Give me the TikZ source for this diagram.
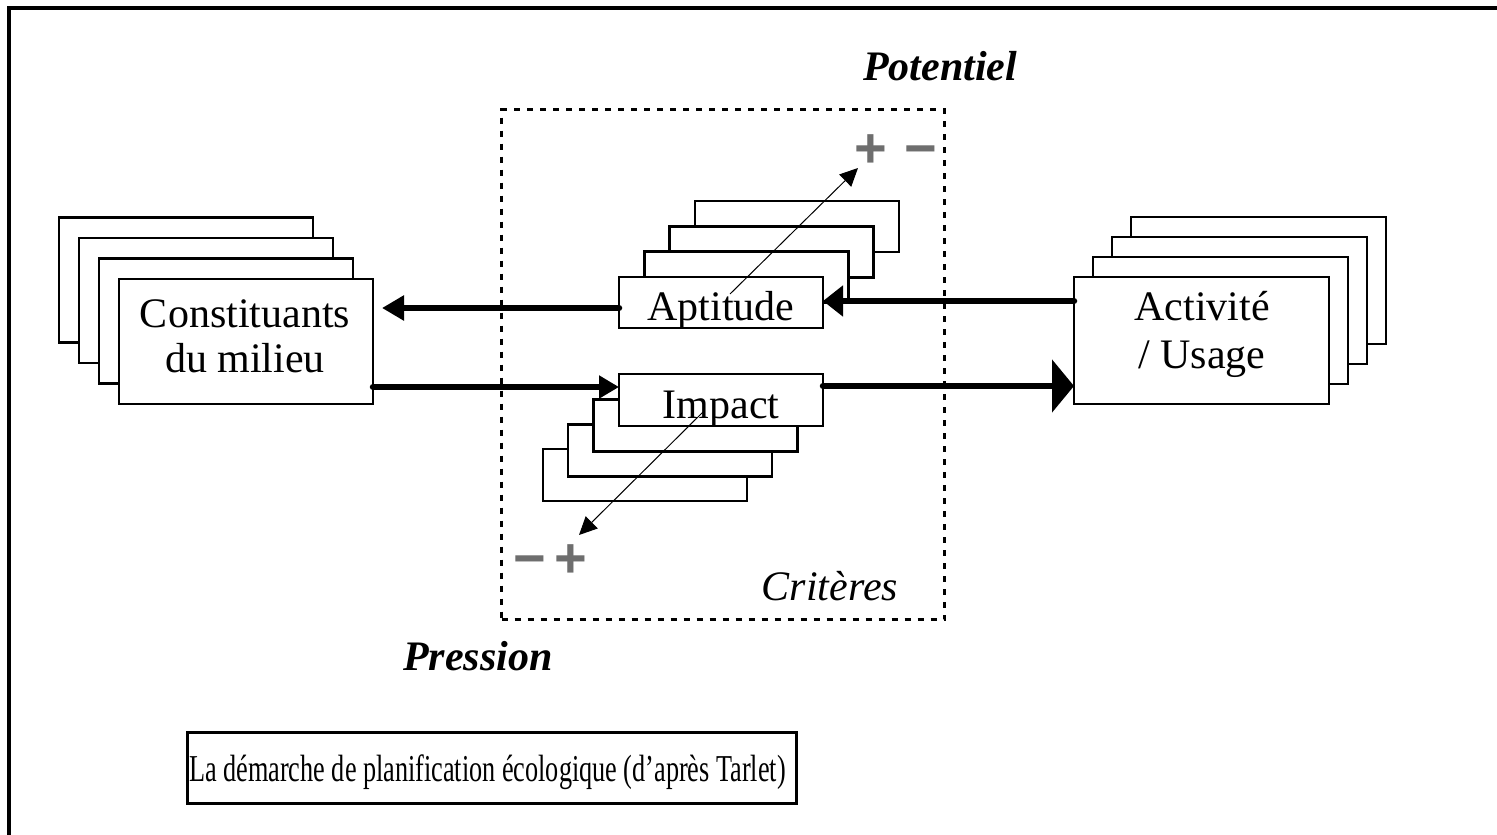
\documentclass[tikz,border=0pt]{standalone}
\usepackage{fontspec}
\setmainfont{Liberation Serif}
\newfontfamily\signfont{Liberation Sans}
\usetikzlibrary{arrows.meta,calc}
\definecolor{signgray}{HTML}{6E6E6E}
\begin{document}
\begin{tikzpicture}[x=1pt,y=-1pt,
  box/.style={draw, line width=2.5pt, fill=white, inner sep=0pt, outer sep=0pt, anchor=north west},
  cbox/.style={box, minimum width=254pt, minimum height=125pt},
  abox/.style={box, minimum width=255pt, minimum height=127pt},
  sbox/.style={box, minimum width=204pt, minimum height=51pt},
  lbl/.style={inner sep=0pt, anchor=base, font=\fontsize{42}{45}\selectfont},
  bilbl/.style={lbl, font=\fontsize{42}{45}\selectfont\bfseries\itshape},
  itlbl/.style={lbl, font=\fontsize{42}{45}\selectfont\itshape},
  signlbl/.style={inner sep=0pt, anchor=base, text=signgray, font=\fontsize{56}{56}\selectfont\signfont\bfseries},
  bigarrow/.style={line width=6.5pt, line cap=round},
  thinarrow/.style={line width=1pt, -{Triangle[length=18pt,width=17pt]}}]
\useasboundingbox (0,0) rectangle (1497,835);
% outer frame (top and left only)
\draw[line width=3.5pt] (9,835) -- (9,8) -- (1497,8);
% dotted criteria box
\node[draw, line width=3pt, dash pattern=on 6pt off 7pt, minimum width=443pt, minimum height=510pt, inner sep=0pt, anchor=north west] (crit) at (500,108) {};
% Constituants stack
\node[cbox] (c4) at (59,217.5) {};
\node[cbox] (c3) at (79,238) {};
\node[cbox] (c2) at (99,258.5) {};
\node[cbox] (cons) at (119,279) {};
\node[lbl] (consT1) at (245,327) {Constituants};
\node[lbl] (consT2) at (245,372) {du milieu};
% Activite stack
\node[abox] (a4) at (1131,217) {};
\node[abox] (a3) at (1112,237) {};
\node[abox] (a2) at (1093,257) {};
\node[abox] (act) at (1074,277) {};
\node[lbl] (actT1) at (1202,320) {Activité};
\node[lbl] (actT2) at (1202,368) {/ Usage};
% Aptitude stack
\node[sbox] (p4) at (695,201) {};
\node[sbox] (p3) at (669.7,226.3) {};
\node[sbox] (p2) at (644.3,251.7) {};
\node[sbox] (apt) at (619,277) {};
\begin{scope}
\clip (apt.north west) rectangle (apt.south east);
\node[lbl] (aptT) at (721,320) {Aptitude};
\end{scope}
% Impact stack
\node[sbox, minimum height=52pt] (i4) at (543,449) {};
\node[sbox, minimum height=52pt] (i3) at (568,424.3) {};
\node[sbox, minimum height=52pt] (i2) at (593.7,399.7) {};
\node[sbox, minimum height=52pt] (imp) at (619,374) {};
\begin{scope}
\clip (imp.north west) rectangle (imp.south east);
\node[lbl] (impT) at (721,418) {Impact};
\end{scope}
% thick connectors
\coordinate (s1) at ([yshift=-5.5pt]apt.west);
\draw[bigarrow, shorten >=9pt, -{Triangle[length=22pt,width=24pt]}] (s1) -- (s1 -| cons.east);
\coordinate (s2) at ([yshift=39.5pt]act.west);
\draw[bigarrow, -{Triangle[length=20pt,width=30pt]}] (s2) -- (s2 -| apt.east);
\coordinate (s3) at ([yshift=-45.5pt]cons.east);
\draw[bigarrow, -{Triangle[length=20pt,width=22pt]}] (s3) -- (s3 -| imp.west);
\coordinate (s4) at ([yshift=14pt]imp.east);
\draw[bigarrow, -{Triangle[length=22pt,width=52pt]}] (s4) -- (s4 -| act.west);
% thin arrows
\coordinate (potTip) at (858,168);
\coordinate (presTip) at (579,535);
\draw[thinarrow] ($(apt.center)+(9,-8.5)$) -- (potTip);
\draw[thinarrow] ($(imp.center)+(-18,12)$) -- (presTip);
% signs
\node[signlbl] (plusA) at (871,167) {+};
\node[signlbl] (minusA) at (921,167) {−};
\node[signlbl] (minusB) at (530,577) {−};
\node[signlbl] (plusB) at (571,577) {+};
% labels
\node[bilbl] (pot) at (940,80) {Potentiel};
\node[bilbl] (pres) at (478,670) {Pression};
\node[itlbl] (critT) at (830,600) {Critères};
% caption
\node[draw, line width=2.5pt, inner sep=0pt, minimum width=609pt, minimum height=71pt, anchor=north west] (cap) at (186,731) {};
\node[inner sep=0pt, anchor=base west] (capT) at (189,781) {\scalebox{0.69}[1]{\fontsize{38}{40}\selectfont La démarche de planification écologique (d’après Tarlet)}};
\end{tikzpicture}
\end{document}
